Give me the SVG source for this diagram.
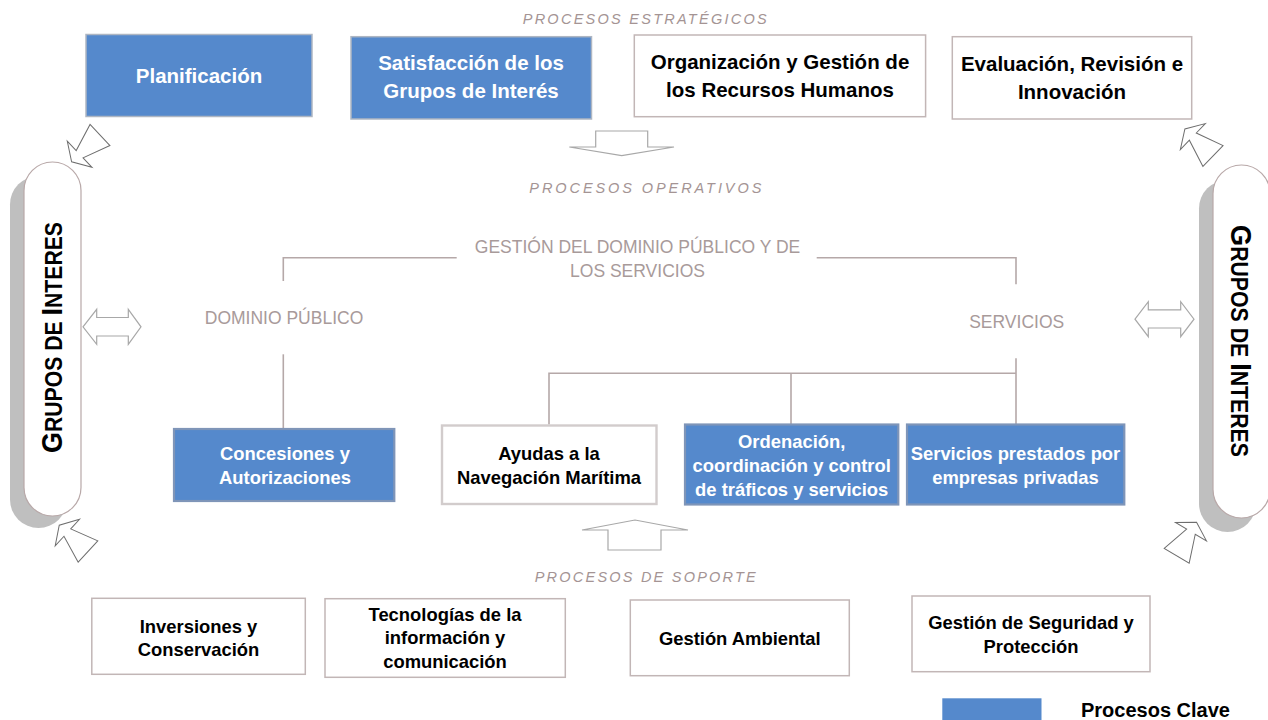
<svg xmlns="http://www.w3.org/2000/svg" xmlns:xlink="http://www.w3.org/1999/xlink" width="1268" height="720" viewBox="0 0 1268 720">
<style>
.t{font-family:"Liberation Sans",Arial,sans-serif;font-weight:bold;text-anchor:middle}
.tw{fill:#ffffff}
.tb{fill:#000000}
.top{font-size:20.5px}
.op{font-size:18.4px}
.sup{font-size:18.4px}
.lbl{font-family:"Liberation Sans",Arial,sans-serif;font-style:italic;font-size:14.5px;fill:#A49494}
.gl{font-family:"Liberation Sans",Arial,sans-serif;font-size:17.5px;fill:#A89A9A;text-anchor:middle}
.blue{fill:#5589CC;stroke:#AEB6C2;stroke-width:1.5}
.blueop{fill:#5589CC;stroke:#7F95B8;stroke-width:2.2}
.white{fill:#ffffff;stroke:#C2B6B6;stroke-width:1.5}
.whiteop{fill:#ffffff;stroke:#D2CCCC;stroke-width:2.4}
.line{fill:none;stroke:#B5A8A8;stroke-width:1.6}
.blk{fill:#ffffff;stroke:#A8A8A8;stroke-width:1.2}
.dia{fill:#ffffff;stroke:#6E6E6E;stroke-width:1}
.pill{fill:#ffffff;stroke:#B8A8A8;stroke-width:1.2}
.shadow{fill:#BFBFBF}
.gi{font-family:"Liberation Sans",Arial,sans-serif;font-weight:bold;fill:#000000}
</style>
<defs>
<path id="darr" d="M0,-14.5 L28,-5 L28,-18 L39,0 L28,18 L28,5 L0,14.5 Z"/>
</defs>
<rect width="1268" height="720" fill="#ffffff"/>

<text class="lbl" x="522.7" y="24" textLength="244" lengthAdjust="spacing">PROCESOS ESTRATÉGICOS</text>
<text class="lbl" x="529.3" y="192.5" textLength="232" lengthAdjust="spacing">PROCESOS OPERATIVOS</text>
<text class="lbl" x="534.7" y="581.7" textLength="221" lengthAdjust="spacing">PROCESOS DE SOPORTE</text>

<g id="connectors">
<path class="line" d="M283.3,281 L283.3,257.7 L456.7,257.7"/>
<path class="line" d="M816.7,257.7 L1016,257.7 L1016,284.3"/>
<path class="line" d="M283.3,354.3 L283.3,428.5"/>
<path class="line" d="M1016,358.3 L1016,424"/>
<path class="line" d="M549,424.5 L549,373.3 L1016,373.3"/>
<path class="line" d="M791,373.3 L791,424"/>
<path class="blk" d="M595.7,131 L647.7,131 L647.7,147 L674,147 L621.7,155.7 L569.3,147 L595.7,147 Z"/>
<path class="blk" d="M608,550 L608,530 L582,530 L635,520 L688,530 L661,530 L661,550 Z"/>
<path class="blk" d="M83,326.8 L96.7,309.3 L96.7,317.5 L128.3,317.5 L128.3,309.3 L141,326.8 L128.3,344.3 L128.3,336 L96.7,336 L96.7,344.3 Z"/>
<path class="blk" d="M1135,319.2 L1148.3,301.7 L1148.3,309.8 L1180.7,309.8 L1180.7,301.7 L1194,319.2 L1180.7,336.7 L1180.7,328 L1148.3,328 L1148.3,336.7 Z"/>
<use href="#darr" class="dia" transform="translate(100,135) rotate(136.7)"/>
<use href="#darr" class="dia" transform="translate(1213,156) rotate(-136.1)"/>
<use href="#darr" class="dia" transform="translate(88,551.5) rotate(-137.5)"/>
<use href="#darr" class="dia" transform="translate(1176.7,555.8) rotate(-59.4)"/>
</g>

<g id="grupos-izq">
<rect class="shadow" x="10" y="176" width="57" height="352" rx="28.5"/>
<rect class="pill" x="24" y="162" width="57" height="354" rx="28.5"/>
<text class="gi" transform="translate(62,453) rotate(-90)" x="0" y="0" textLength="231" lengthAdjust="spacingAndGlyphs"><tspan font-size="30">G</tspan><tspan font-size="23.5">RUPOS DE </tspan><tspan font-size="30">I</tspan><tspan font-size="23.5">NTERES</tspan></text>
</g>

<g id="grupos-der">
<rect class="shadow" x="1199" y="180" width="57" height="352" rx="28.5"/>
<rect class="pill" x="1213" y="165" width="57" height="353" rx="28.5"/>
<text class="gi" transform="translate(1231,225) rotate(90)" x="0" y="0" textLength="232" lengthAdjust="spacingAndGlyphs"><tspan font-size="30">G</tspan><tspan font-size="23.5">RUPOS DE </tspan><tspan font-size="30">I</tspan><tspan font-size="23.5">NTERES</tspan></text>
</g>

<g id="planificacion">
<rect class="blue" x="86" y="34.5" width="226" height="82"/>
<text class="t tw top" x="199" y="83.3">Planificación</text>
</g>

<g id="satisfaccion">
<rect class="blue" x="351" y="36.7" width="240.5" height="82.3"/>
<text class="t tw top" x="471" y="70">Satisfacción de los</text>
<text class="t tw top" x="471" y="98">Grupos de Interés</text>
</g>

<g id="organizacion">
<rect class="white" x="634.3" y="35" width="291.3" height="81.7"/>
<text class="t tb top" x="780" y="68.5">Organización y Gestión de</text>
<text class="t tb top" x="780" y="96.8">los Recursos Humanos</text>
</g>

<g id="evaluacion">
<rect class="white" x="952.3" y="36.7" width="239.4" height="82.3"/>
<text class="t tb top" x="1072" y="70.7">Evaluación, Revisión e</text>
<text class="t tb top" x="1072" y="99">Innovación</text>
</g>

<g id="gestion-dominio">
<text class="gl" x="637.5" y="253.3">GESTIÓN DEL DOMINIO PÚBLICO Y DE</text>
<text class="gl" x="637.5" y="277.3">LOS SERVICIOS</text>
</g>

<g id="dominio-publico">
<text class="gl" x="284" y="324.3">DOMINIO PÚBLICO</text>
</g>

<g id="servicios">
<text class="gl" x="1016.7" y="328.3">SERVICIOS</text>
</g>

<g id="concesiones">
<rect class="blueop" x="174" y="429" width="220.3" height="72"/>
<text class="t tw op" x="285" y="460">Concesiones y</text>
<text class="t tw op" x="285" y="484">Autorizaciones</text>
</g>

<g id="ayudas">
<rect class="whiteop" x="442" y="425.5" width="214.5" height="78.5"/>
<text class="t tb op" x="549" y="460">Ayudas a la</text>
<text class="t tb op" x="549" y="484">Navegación Marítima</text>
</g>

<g id="ordenacion">
<rect class="blueop" x="685" y="424.5" width="213.3" height="80"/>
<text class="t tw op" x="791.7" y="447.7">Ordenación,</text>
<text class="t tw op" x="791.7" y="471.7">coordinación y control</text>
<text class="t tw op" x="791.7" y="496">de tráficos y servicios</text>
</g>

<g id="servicios-privados">
<rect class="blueop" x="907" y="424.5" width="217.3" height="80"/>
<text class="t tw op" x="1015.5" y="460">Servicios prestados por</text>
<text class="t tw op" x="1015.5" y="484">empresas privadas</text>
</g>

<g id="inversiones">
<rect class="white" x="91.8" y="598.3" width="213.5" height="76"/>
<text class="t tb sup" x="198.5" y="633.3">Inversiones y</text>
<text class="t tb sup" x="198.5" y="656">Conservación</text>
</g>

<g id="tecnologias">
<rect class="white" x="325" y="598.7" width="240.3" height="78.6"/>
<text class="t tb sup" x="445" y="620.7">Tecnologías de la</text>
<text class="t tb sup" x="445" y="644">información y</text>
<text class="t tb sup" x="445" y="668.3">comunicación</text>
</g>

<g id="gestion-ambiental">
<rect class="white" x="630.3" y="600" width="219" height="75.7"/>
<text class="t tb sup" x="739.8" y="645">Gestión Ambiental</text>
</g>

<g id="seguridad">
<rect class="white" x="912" y="596" width="238" height="75.7"/>
<text class="t tb sup" x="1031" y="629.3">Gestión de Seguridad y</text>
<text class="t tb sup" x="1031" y="652.7">Protección</text>
</g>

<g id="leyenda">
<rect x="942.3" y="698.3" width="99.2" height="25" fill="#5589CC"/>
<text class="t tb" x="1155.5" y="716.7" font-size="20">Procesos Clave</text>
</g>
</svg>
